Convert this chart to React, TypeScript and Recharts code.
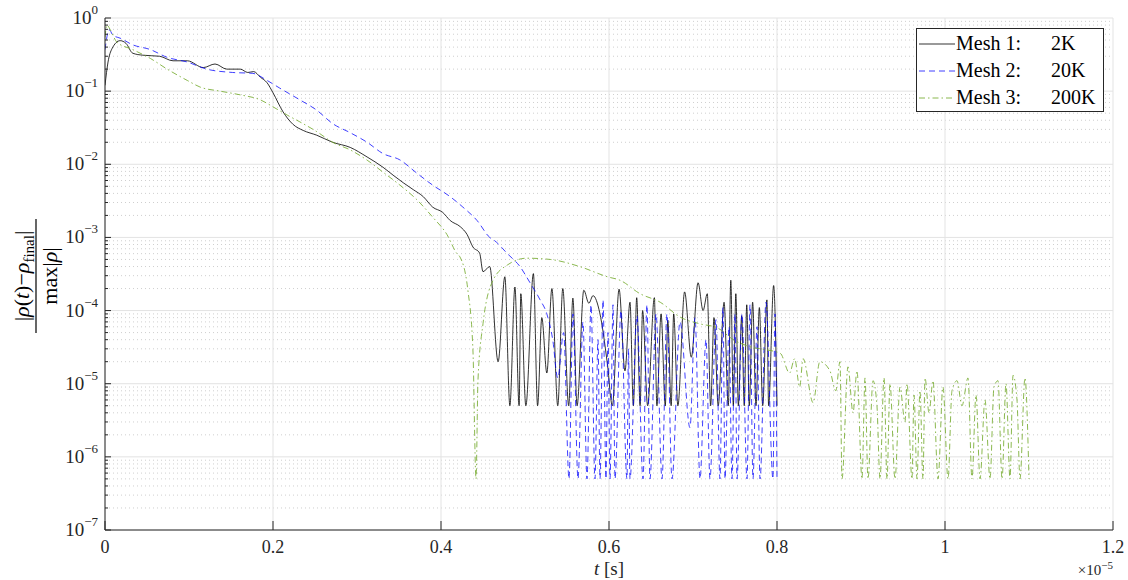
import React from "react";
import { LineChart, Line, XAxis, YAxis, CartesianGrid } from "recharts";

// time in units of 1e-5 s, values are |rho(t) - rho_final| / max|rho|
const mesh1T = [
  0, 0.0036, 0.0083, 0.018, 0.025, 0.033, 0.045, 0.065, 0.081, 0.098, 0.117, 0.131, 0.145, 0.161, 0.17,
  0.177, 0.185, 0.193, 0.2, 0.212, 0.224, 0.236, 0.252, 0.271, 0.292, 0.312, 0.331, 0.343, 0.355, 0.367,
  0.379, 0.39, 0.402, 0.411, 0.423, 0.431, 0.438, 0.446, 0.45, 0.458, 0.468, 0.476, 0.482, 0.488, 0.493,
  0.495, 0.501, 0.51, 0.515, 0.52, 0.526, 0.532, 0.539, 0.545, 0.552, 0.557, 0.562, 0.57, 0.576, 0.581,
  0.589, 0.598, 0.604, 0.612, 0.619, 0.625, 0.629, 0.633, 0.637, 0.64, 0.646, 0.654, 0.657, 0.662, 0.667,
  0.67, 0.674, 0.677, 0.682, 0.69, 0.698, 0.706, 0.712, 0.717, 0.721, 0.725, 0.73, 0.737, 0.742, 0.745,
  0.748, 0.751, 0.754, 0.758, 0.761, 0.764, 0.767, 0.771, 0.775, 0.779, 0.783, 0.788, 0.79, 0.796, 0.8,
];
const mesh1Rho = [
  0.12, 0.25, 0.38, 0.49, 0.45, 0.33, 0.31, 0.3, 0.26, 0.26, 0.21, 0.235, 0.2, 0.2, 0.18,
  0.185, 0.155, 0.13, 0.095, 0.052, 0.035, 0.029, 0.025, 0.02, 0.017, 0.0126, 0.0091, 0.0071, 0.0056, 0.0045,
  0.0036, 0.0026, 0.0022, 0.0017, 0.0014, 0.0011, 0.00074, 0.00061, 0.00034, 0.0004, 2e-5, 2.9e-4, 5e-6, 2.1e-4, 5e-6,
  1.7e-4, 5e-6, 3.2e-4, 5e-6, 8e-5, 1.4e-5, 2e-4, 5e-6, 2e-4, 5e-6, 1.48e-4, 5e-6, 1.9e-4, 1.26e-4, 1.6e-4,
  9.3e-5, 1.9e-5, 5e-6, 1.96e-4, 1.5e-5, 1.3e-4, 5e-6, 1.5e-4, 5e-6, 1e-4, 5e-6, 1.5e-4, 5e-6, 9e-5, 5e-6,
  7.4e-5, 5e-6, 9e-5, 5e-6, 1.8e-4, 2.3e-5, 2.4e-4, 1e-4, 1.7e-4, 5e-6, 8e-5, 5e-6, 1.3e-4, 5e-6, 2.6e-4,
  5e-6, 1.7e-4, 5e-6, 8.5e-5, 5e-6, 1.2e-4, 5e-6, 1.3e-4, 5e-6, 1.1e-4, 5e-6, 1.4e-4, 5e-6, 2.2e-4, 5e-6,
];

const mesh2T = [
  0, 0.005, 0.0095, 0.018, 0.033, 0.054, 0.074, 0.098, 0.121, 0.152, 0.176, 0.193, 0.208, 0.232, 0.252,
  0.271, 0.292, 0.312, 0.331, 0.351, 0.371, 0.39, 0.411, 0.426, 0.443, 0.458, 0.464, 0.479, 0.494, 0.506,
  0.518, 0.526, 0.533, 0.539, 0.546, 0.5524, 0.5571, 0.5631, 0.569, 0.5738, 0.5786, 0.5833, 0.5869, 0.5893, 0.5929,
  0.5964, 0.5988, 0.6012, 0.6048, 0.6071, 0.6143, 0.6214, 0.6232, 0.625, 0.6333, 0.6405, 0.6452, 0.6488, 0.656, 0.6631,
  0.669, 0.675, 0.6845, 0.6964, 0.7024, 0.7083, 0.7155, 0.7202, 0.7274, 0.7321, 0.7357, 0.7381, 0.7429, 0.7464, 0.75,
  0.7524, 0.7583, 0.7643, 0.7679, 0.7714, 0.7762, 0.7798, 0.7869, 0.7952, 0.7976, 0.8,
];
const mesh2Rho = [
  0.37, 0.69, 0.58, 0.53, 0.43, 0.37, 0.29, 0.25, 0.2, 0.18, 0.175, 0.14, 0.11, 0.076, 0.055,
  0.036, 0.027, 0.02, 0.014, 0.0115, 0.0076, 0.0052, 0.0036, 0.0026, 0.0017, 0.001, 0.0009, 0.0006, 0.0004, 0.00024,
  0.00014, 9e-5, 4e-5, 1.2e-5, 5e-5, 5e-7, 9e-5, 5e-7, 7e-5, 5e-7, 1.2e-4, 5e-7, 4e-5, 5e-7, 1.4e-4,
  5e-7, 5e-5, 5e-7, 1.2e-4, 5e-7, 1e-4, 5e-7, 3e-5, 5e-7, 8.5e-5, 5e-7, 1.2e-4, 5e-7, 9e-5, 5e-7,
  9e-5, 5e-7, 7e-5, 2.5e-6, 8e-5, 5e-7, 4e-5, 5e-7, 7.5e-5, 5e-7, 1.1e-4, 5e-7, 6e-5, 5e-7, 9e-5,
  5e-7, 9e-5, 5e-7, 1.2e-4, 5e-7, 6e-5, 5e-7, 1.3e-4, 5e-7, 9e-5, 5e-7,
];

const mesh3T = [
  0, 0.0024, 0.006, 0.014, 0.033, 0.054, 0.074, 0.098, 0.113, 0.137, 0.161, 0.185, 0.2, 0.217, 0.232,
  0.252, 0.271, 0.292, 0.312, 0.331, 0.351, 0.371, 0.39, 0.407, 0.419, 0.4226, 0.432, 0.438, 0.4417, 0.444,
  0.45, 0.462, 0.479, 0.502, 0.53, 0.565, 0.598, 0.613, 0.637, 0.661, 0.685, 0.708, 0.729, 0.748, 0.768,
  0.788, 0.804, 0.815, 0.821, 0.827, 0.831, 0.843, 0.851, 0.863, 0.87, 0.875, 0.8774, 0.8845, 0.8905, 0.8952,
  0.9012, 0.9048, 0.9083, 0.9143, 0.919, 0.9226, 0.9274, 0.931, 0.9345, 0.9405, 0.9464, 0.9524, 0.9548, 0.9607, 0.9631,
  0.9667, 0.9702, 0.9738, 0.9762, 0.981, 0.9857, 0.9917, 0.9976, 1.0036, 1.0083, 1.0143, 1.0202, 1.0274, 1.0321, 1.0369,
  1.0417, 1.0476, 1.0536, 1.0583, 1.0631, 1.0679, 1.0726, 1.0774, 1.081, 1.0857, 1.0893, 1.0952, 1.1,
];
const mesh3Rho = [
  0.55, 0.8, 0.7, 0.47, 0.37, 0.28, 0.2, 0.14, 0.114, 0.1, 0.089, 0.076, 0.061, 0.047, 0.038,
  0.028, 0.02, 0.0157, 0.0114, 0.0078, 0.0052, 0.0033, 0.0019, 0.0011, 0.0006, 0.00054, 0.00019, 2.9e-5, 5e-7, 1.1e-5,
  6.6e-5, 2.6e-4, 4.2e-4, 5.2e-4, 5e-4, 4e-4, 2.9e-4, 2.6e-4, 1.7e-4, 1.3e-4, 8.1e-5, 6.6e-5, 5.8e-5, 4e-5, 3.2e-5,
  2.9e-5, 2.6e-5, 1.4e-5, 2.2e-5, 9e-6, 2.2e-5, 5.5e-6, 2e-5, 1.5e-5, 8e-6, 2e-5, 5e-7, 1.7e-5, 4e-6, 1.5e-5,
  5e-7, 1.2e-5, 5e-7, 1.1e-5, 5e-6, 5e-7, 1.2e-5, 5e-7, 1e-5, 5e-7, 9e-6, 3e-6, 1e-5, 5e-7, 7e-6,
  5e-7, 8e-6, 5e-7, 1.2e-5, 4e-6, 1.1e-5, 5e-7, 9e-6, 5e-7, 8e-6, 1.1e-5, 5e-6, 1.2e-5, 5e-7, 7e-6,
  5e-7, 6e-6, 5e-7, 9e-6, 1.1e-5, 5e-7, 1e-5, 5e-7, 1.3e-5, 6e-6, 5e-7, 1.2e-5, 5e-7,
];

const seriesLabels = ["Mesh 1:", "Mesh 2:", "Mesh 3:"];
const seriesSizes = ["2K", "20K", "200K"];
const xTicks = [0, 0.2, 0.4, 0.6, 0.8, 1, 1.2];
const xTickLabels = ["0", "0.2", "0.4", "0.6", "0.8", "1", "1.2"];
const yExponents = [-7, -6, -5, -4, -3, -2, -1, 0];

const FONT = "'Liberation Serif', 'DejaVu Serif', serif";
const AXIS = "#262626";

const zip = (t: number[], v: number[]) => t.map((x, i) => ({ t: x, v: v[i] }));
const mesh1 = zip(mesh1T, mesh1Rho);
const mesh2 = zip(mesh2T, mesh2Rho);
const mesh3 = zip(mesh3T, mesh3Rho);

const yMajor = yExponents.map((e) => Math.pow(10, e));
const yMinor: number[] = [];
yExponents.slice(0, -1).forEach((e) => {
  for (let k = 2; k <= 9; k++) yMinor.push(k * Math.pow(10, e));
});
const yAll = [...yMajor, ...yMinor].sort((a, b) => a - b);

const styles = [
  { color: "#000000", opacity: 0.8, dash: undefined as string | undefined },
  { color: "#0000ff", opacity: 0.75, dash: "6 4" },
  { color: "#77ac30", opacity: 0.85, dash: "6 3 1.5 3" },
];

function YTick(props: any) {
  const { x, y, payload } = props;
  const lg = Math.log10(payload.value);
  const e = Math.round(lg);
  const major = Math.abs(lg - e) < 1e-6;
  return (
    <g>
      <line x1={x} x2={x + (major ? 6 : 3)} y1={y} y2={y} stroke={AXIS} strokeWidth={1} />
      {major && (
        <text x={x - 7} y={y + 6} textAnchor="end" fontFamily={FONT} fontSize={19} fill={AXIS}>
          10
          <tspan dy={-10} fontSize={13}>
            {e < 0 ? "\u2212" + Math.abs(e) : String(e)}
          </tspan>
        </text>
      )}
    </g>
  );
}

function XTick(props: any) {
  const { x, y, payload } = props;
  const i = xTicks.indexOf(payload.value);
  return (
    <g>
      <line x1={x} x2={x} y1={y} y2={y - 9} stroke={AXIS} strokeWidth={1} />
      <text x={x} y={y + 23} textAnchor="middle" fontFamily={FONT} fontSize={18} fill={AXIS}>
        {xTickLabels[i]}
      </text>
    </g>
  );
}

function FracLabel() {
  const cx = 36;
  const cy = 276;
  return (
    <g transform={`rotate(-90 ${cx} ${cy})`} fontFamily={FONT} fill="#000">
      <text x={cx} y={cy - 7} textAnchor="middle" fontSize={22}>
        |<tspan fontStyle="italic">ρ</tspan>(<tspan fontStyle="italic">t</tspan>)−
        <tspan fontStyle="italic">ρ</tspan>
        <tspan fontSize={15} dy={5}>final</tspan>
        <tspan dy={-5}>|</tspan>
      </text>
      <line x1={cx - 57} x2={cx + 57} y1={cy} y2={cy} stroke="#000" strokeWidth={1.2} />
      <text x={cx} y={cy + 21} textAnchor="middle" fontSize={22}>
        max|<tspan fontStyle="italic">ρ</tspan>|
      </text>
    </g>
  );
}

function XLabel() {
  return (
    <g fontFamily={FONT} fill={AXIS}>
      <text x={609} y={575} textAnchor="middle" fontSize={19}>
        <tspan fontStyle="italic">t</tspan> [s]
      </text>
      <text x={1113} y={575} textAnchor="end" fontSize={15}>
        ×10
        <tspan dy={-6} fontSize={11}>−5</tspan>
      </text>
    </g>
  );
}

function LegendBox() {
  return (
    <div
      style={{
        position: "absolute",
        left: 916,
        top: 28,
        width: 188,
        height: 84,
        border: `1px solid ${AXIS}`,
        background: "#fff",
        fontFamily: FONT,
        fontSize: 20,
        color: "#000",
        boxSizing: "border-box",
        paddingTop: 1,
      }}
    >
      {seriesLabels.map((s, i) => (
        <div key={s} style={{ display: "flex", alignItems: "center", height: 27 }}>
          <svg width={38} height={10} style={{ marginLeft: 1 }}>
            <line
              x1={1}
              x2={37}
              y1={5}
              y2={5}
              stroke={styles[i].color}
              strokeOpacity={styles[i].opacity}
              strokeDasharray={styles[i].dash}
              strokeWidth={1}
            />
          </svg>
          <span style={{ width: 95 }}>{s}</span>
          <span>{seriesSizes[i]}</span>
        </div>
      ))}
    </div>
  );
}

export default function App() {
  const series = [mesh1, mesh2, mesh3];
  return (
    <div style={{ position: "absolute", left: 0, top: 0, width: 1128, height: 580, background: "#fff" }}>
      <LineChart width={1128} height={580} margin={{ top: 18, right: 15, bottom: 0, left: 0 }}>
        <CartesianGrid
          horizontalValues={yMinor}
          vertical={false}
          stroke="#cfcfcf"
          strokeDasharray="1 3"
        />
        <CartesianGrid horizontalValues={yMajor} verticalValues={xTicks} stroke="#e3e3e3" />
        <XAxis
          dataKey="t"
          type="number"
          domain={[0, 1.2]}
          ticks={xTicks}
          interval={0}
          allowDataOverflow
          height={50}
          tickSize={0}
          tickMargin={0}
          tickLine={false}
          tick={<XTick />}
          stroke={AXIS}
          label={() => <XLabel />}
        />
        <YAxis
          dataKey="v"
          type="number"
          scale="log"
          domain={[1e-7, 1]}
          ticks={yAll}
          interval={0}
          allowDataOverflow
          width={105}
          tickSize={0}
          tickMargin={0}
          tickLine={false}
          tick={<YTick />}
          stroke={AXIS}
          label={() => <FracLabel />}
        />
        {series.map((d, i) => (
          <Line
            key={i}
            data={d}
            dataKey="v"
            type="monotone"
            stroke={styles[i].color}
            strokeOpacity={styles[i].opacity}
            strokeDasharray={styles[i].dash}
            strokeWidth={1}
            dot={false}
            activeDot={false}
            isAnimationActive={false}
          />
        ))}
      </LineChart>
      <LegendBox />
    </div>
  );
}
